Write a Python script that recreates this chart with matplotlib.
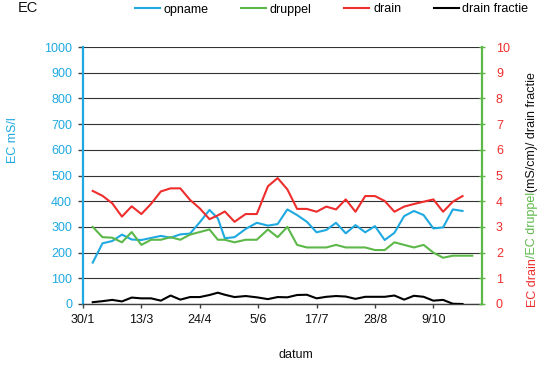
import matplotlib
matplotlib.use("Agg")
import matplotlib.pyplot as plt
from matplotlib.lines import Line2D
from datetime import datetime

plt.rcParams["font.family"] = ["Liberation Sans", "DejaVu Sans"]

YEAR = 2013

# sampling dates (day/month)
dates = ["6/2", "13/2", "20/2", "27/2", "6/3", "13/3", "20/3", "27/3", "3/4", "10/4",
         "17/4", "24/4", "1/5", "7/5", "12/5", "19/5", "27/5", "4/6", "12/6", "19/6",
         "26/6", "3/7", "10/7", "17/7", "24/7", "31/7", "7/8", "14/8", "21/8", "28/8",
         "4/9", "11/9", "18/9", "25/9", "2/10", "9/10", "16/10", "23/10", "30/10", "6/11"]

# EC uptake (left axis, mS/l)
opname = [161, 236, 245, 270, 251, 249, 257, 265, 258, 271,
          274, 318, 366, 333, 256, 260, 292, 316, 305, 311,
          368, 346, 320, 279, 288, 316, 275, 307, 279, 303,
          249, 277, 342, 362, 346, 294, 298, 368, 362]

# EC drip (right axis)
druppel = [3.00, 2.60, 2.58, 2.40, 2.80, 2.30, 2.50, 2.50, 2.60, 2.50,
           2.70, 2.80, 2.90, 2.50, 2.50, 2.40, 2.50, 2.50, 2.90, 2.60,
           3.00, 2.30, 2.20, 2.20, 2.20, 2.30, 2.20, 2.20, 2.20, 2.10,
           2.10, 2.40, 2.30, 2.20, 2.30, 2.00, 1.80, 1.88, 1.88, 1.88]

# EC drain (right axis)
drain = [4.40, 4.21, 3.92, 3.40, 3.80, 3.50, 3.90, 4.38, 4.50, 4.50,
         4.05, 3.72, 3.30, 3.45, 3.60, 3.20, 3.50, 3.50, 4.58, 4.90,
         4.46, 3.70, 3.70, 3.59, 3.79, 3.68, 4.07, 3.59, 4.20, 4.20,
         4.01, 3.59, 3.79, 3.89, 3.98, 4.07, 3.59, 3.98, 4.20]

# drain fraction (right axis)
drain_fractie = [0.07, 0.11, 0.16, 0.10, 0.25, 0.22, 0.22, 0.13, 0.33, 0.17,
                 0.27, 0.27, 0.35, 0.44, 0.36, 0.27, 0.31, 0.26, 0.19, 0.27,
                 0.26, 0.35, 0.36, 0.22, 0.28, 0.31, 0.29, 0.20, 0.28, 0.28,
                 0.28, 0.33, 0.17, 0.32, 0.28, 0.13, 0.16, 0.01, 0.00]

tick_labels = ["30/1", "13/3", "24/4", "5/6", "17/7", "28/8", "9/10"]

C_CYAN = "#1fa9e1"
C_GREEN = "#5cb848"
C_RED = "#ee2d2d"
C_BLACK = "#000000"
C_AXIS = "#404040"


def to_date(s):
    d, m = s.split("/")
    return datetime(YEAR, int(m), int(d))


x = [to_date(s) for s in dates]

W, H = 541, 370
fig = plt.figure(figsize=(W / 100, H / 100), dpi=100)
ax = fig.add_axes([83 / W, 66 / H, 399 / W, 257 / H])
ax2 = ax.twinx()

lw = 1.5
ax.plot(x[:len(opname)], opname, color=C_CYAN, lw=lw, zorder=3)
ax2.plot(x[:len(druppel)], druppel, color=C_GREEN, lw=lw, zorder=3)
ax2.plot(x[:len(drain)], drain, color=C_RED, lw=lw, zorder=3)
ax2.plot(x[:len(drain_fractie)], drain_fractie, color=C_BLACK, lw=lw, zorder=3)

ax.set_xlim(datetime(YEAR, 1, 30), datetime(YEAR, 11, 13))
ax.set_ylim(0, 1000)
ax2.set_ylim(0, 10)
ax.set_yticks(range(0, 1001, 100))
ax2.set_yticks(range(0, 11, 1))
ax.set_xticks([to_date(s) for s in tick_labels])
ax.set_xticklabels(tick_labels)

ax.grid(axis="y", color="#333333", lw=0.8)
ax.grid(axis="x", visible=False)
ax.set_axisbelow(True)

for sp in ("top", "right"):
    ax.spines[sp].set_visible(False)
for sp in ("top", "left", "bottom"):
    ax2.spines[sp].set_visible(False)
ax.spines["left"].set_color(C_CYAN)
ax.spines["left"].set_linewidth(1.6)
ax.spines["bottom"].set_color(C_AXIS)
ax.spines["bottom"].set_linewidth(1.0)
ax2.spines["right"].set_color(C_GREEN)
ax2.spines["right"].set_linewidth(1.6)

ax.tick_params(axis="y", direction="out", length=3.6, width=1, color=C_AXIS,
               labelcolor=C_CYAN, labelsize=9, pad=4.3)
ax.tick_params(axis="x", direction="out", length=3, width=1, color=C_AXIS,
               labelcolor="#111111", labelsize=9, pad=4)
ax2.tick_params(axis="y", direction="inout", length=4, width=1, color=C_GREEN,
                labelcolor=C_RED, labelsize=9, pad=8)

# titles and axis labels
fig.text(18 / W, 1 - 12.5 / H, "EC", fontsize=10.5, color="#111111",
         ha="left", va="baseline")
fig.text(296 / W, 1 - 355 / H, "datum", fontsize=9, color="#111111",
         ha="center", va="center")
fig.text(16.5 / W, 1 - 140 / H, "EC mS/l", fontsize=9, color=C_CYAN,
         rotation=90, rotation_mode="anchor", ha="center", va="baseline")

# multi-coloured right axis title, built bottom-up
pieces = [("EC drain", C_RED), ("/EC druppel", C_GREEN),
          ("(mS/cm)/ drain fractie", "#111111")]
renderer = fig.canvas.get_renderer()
y_px = H - 307
x_px = 535.5
for txt, col in pieces:
    t = fig.text(x_px / W, y_px / H, txt, fontsize=9, color=col, rotation=90,
                 rotation_mode="anchor", ha="left", va="baseline")
    bb = t.get_window_extent(renderer=renderer)
    y_px += bb.height

# legend
handles = [Line2D([], [], color=c, lw=lw) for c in (C_CYAN, C_GREEN, C_RED, C_BLACK)]
labels = ["opname", "druppel", "drain", "drain fractie"]
fig.legend(handles, labels, loc="center left", bbox_to_anchor=(135 / W, 1 - 9.5 / H),
           ncol=4, frameon=False, fontsize=9, handlelength=2.0, handletextpad=0.3,
           columnspacing=2.6, borderpad=0, borderaxespad=0)

fig.savefig("out.png", dpi=100)
